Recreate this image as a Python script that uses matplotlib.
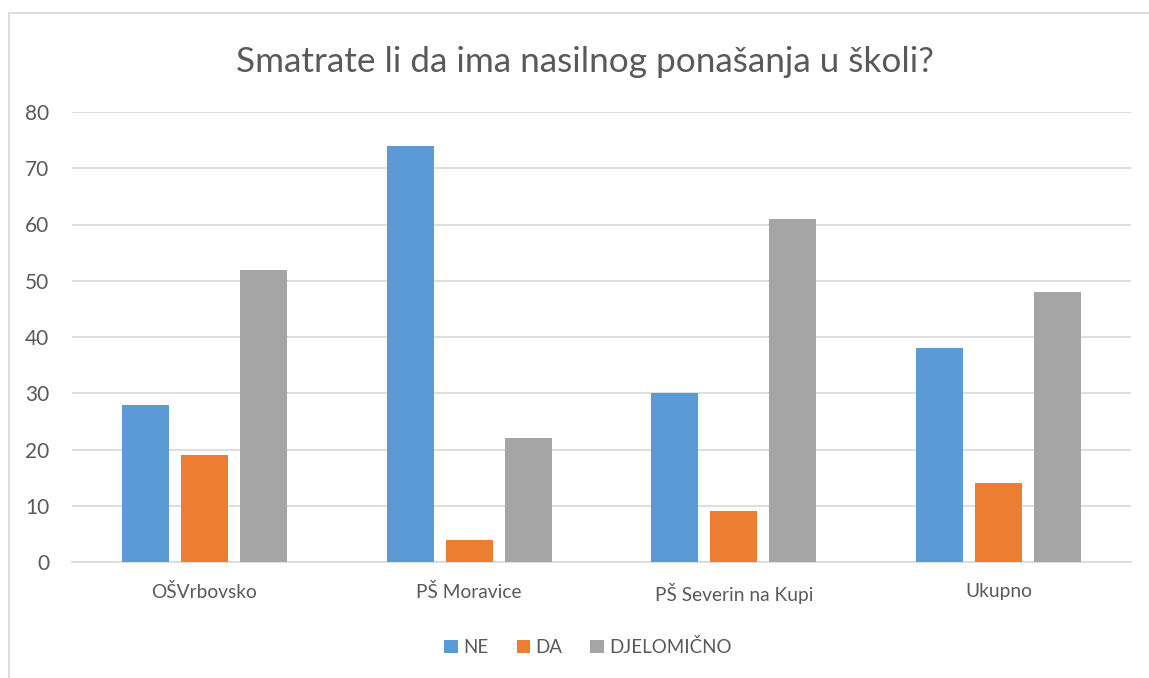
import matplotlib
matplotlib.use("Agg")
import matplotlib.pyplot as plt
from matplotlib.lines import Line2D
import numpy as np

categories = ["OŠVrbovsko", "PŠ Moravice", "PŠ Severin na Kupi", "Ukupno"]
series_names = ["NE", "DA", "DJELOMIČNO"]
ne = [28, 74, 30, 38]
da = [19, 4, 9, 14]
djelomicno = [52, 22, 61, 48]
y_ticks = [0, 10, 20, 30, 40, 50, 60, 70, 80]

colors = ["#5B9BD5", "#ED7D31", "#A5A5A5"]
text_color = "#595959"
grid_color = "#D9D9D9"

plt.rcParams['font.family'] = ['Lato', 'DejaVu Sans']

W, H = 1149, 678
fig = plt.figure(figsize=(W / 100, H / 100), dpi=100)

# chart border (only top and left visible in the crop)
bx, by = 8.5 / W, 1 - 13 / H
fig.lines.append(Line2D([bx, 1.0], [by, by], transform=fig.transFigure,
                        color=grid_color, linewidth=1.3))
fig.lines.append(Line2D([bx, bx], [0, by], transform=fig.transFigure,
                        color=grid_color, linewidth=1.3))

left, right, top, bottom = 72, 1131, 112, 562
ax = fig.add_axes([left / W, 1 - bottom / H, (right - left) / W, (bottom - top) / H])

x = np.arange(len(categories))
bw = 0.178
step = 0.223
for i, (vals, name) in enumerate(zip([ne, da, djelomicno], series_names)):
    ax.bar(x + (i - 1) * step, vals, width=bw, color=colors[i], label=name, zorder=3)

ax.set_xlim(-0.5, len(categories) - 0.5)
ax.set_ylim(0, 80)
ax.set_yticks(y_ticks)
ax.set_yticklabels([str(t) for t in y_ticks])
ax.set_xticks(x)
ax.set_xticklabels(categories)
ax.yaxis.grid(True, color=grid_color, linewidth=1.2, zorder=0)
ax.set_axisbelow(True)
for s in ["top", "right", "left"]:
    ax.spines[s].set_visible(False)
ax.spines["bottom"].set_color(grid_color)
ax.spines["bottom"].set_linewidth(1.2)
ax.tick_params(axis="both", length=0, colors=text_color)
ax.tick_params(axis="x", labelsize=13.8, pad=15)
ax.tick_params(axis="y", labelsize=15, pad=16.5)

fig.text(584.5 / W, 1 - 62 / H, "Smatrate li da ima nasilnog ponašanja u školi?",
         ha="center", va="center", fontsize=25.3, color=text_color)

handles, labels = ax.get_legend_handles_labels()
fig.legend(handles, labels, loc="center", bbox_to_anchor=(588 / W, 1 - 647 / H), ncol=3,
           frameon=False, fontsize=13.5, labelcolor=text_color, handlelength=0.7,
           handleheight=0.7, handletextpad=0.3, columnspacing=1.5)

fig.savefig("out.png", dpi=100)
